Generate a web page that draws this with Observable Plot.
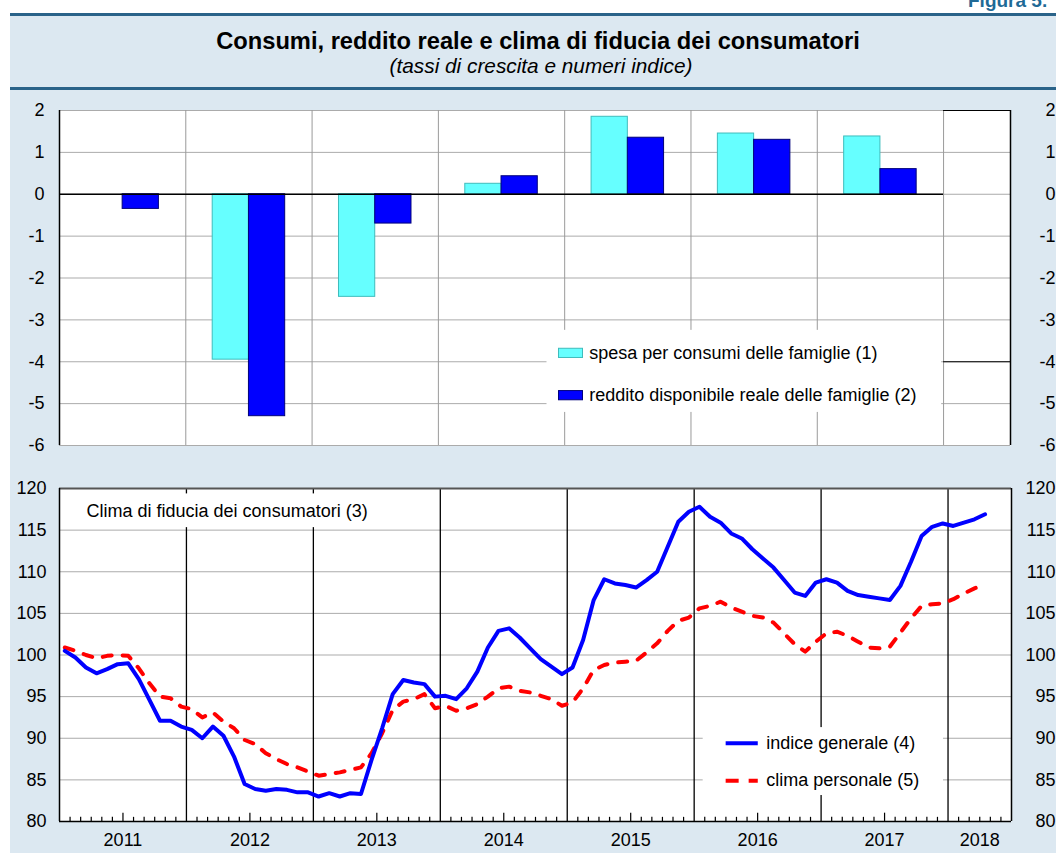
<!DOCTYPE html>
<html>
<head>
<meta charset="utf-8">
<script src="https://cdn.jsdelivr.net/npm/d3@7"></script>
<script src="https://cdn.jsdelivr.net/npm/@observablehq/plot@0.6"></script>
<style>
  body { margin: 0; background: #ffffff; font-family: "Liberation Sans", Arial, Helvetica, sans-serif; }
  #page { position: relative; width: 1056px; height: 853px; overflow: hidden; background: #ffffff; }
  #bg { position: absolute; left: 10px; top: 14px; width: 1046px; height: 839px; background: #dce8f1; }
  .band { position: absolute; left: 10px; width: 1046px; height: 3px; background: #2a6389; }
  #fig { position: absolute; left: 968px; top: -9px; font-size: 19px; font-weight: bold; color: #1f6a96; line-height: 1; white-space: nowrap; }
  #title { position: absolute; left: 0; width: 1076px; top: 30px; text-align: center; font-size: 23.7px; font-weight: bold; line-height: 1; color: #000; }
  #subtitle { position: absolute; left: 0; width: 1082px; top: 56px; text-align: center; font-size: 20.8px; font-style: italic; line-height: 1; color: #000; }
  #topchart { position: absolute; left: 0; top: 95px; }
  #bottomchart { position: absolute; left: 0; top: 470px; }
  svg { overflow: visible; }
</style>
</head>
<body>
<div id="page">
  <div id="bg"></div>
  <div class="band" style="top:13px"></div>
  <div class="band" style="top:87px"></div>
  <div id="fig">Figura 5.</div>
  <div id="title">Consumi, reddito reale e clima di fiducia dei consumatori</div>
  <div id="subtitle">(tassi di crescita e numeri indice)</div>
  <div id="topchart"></div>
  <div id="bottomchart"></div>
</div>
<script>
// ---------------- DATA ----------------
const years = [2011, 2012, 2013, 2014, 2015, 2016, 2017];
const spesaConsumi = [0.0, -3.95, -2.45, 0.25, 1.85, 1.45, 1.38];
const redditoDisponibile = [-0.35, -5.3, -0.7, 0.43, 1.35, 1.3, 0.6];

const topTicks = [-6, -5, -4, -3, -2, -1, 0, 1, 2];
const bottomTicks = [80, 85, 90, 95, 100, 105, 110, 115, 120];
const yearLabels = ["2011", "2012", "2013", "2014", "2015", "2016", "2017", "2018"];

// monthly series, January 2011 - April 2018
const indiceGenerale = [
  100.5, 99.7, 98.5, 97.8, 98.3, 98.9, 99.0, 97.1, 94.6, 92.1, 92.1, 91.4,
  91.0, 90.0, 91.4, 90.3, 87.8, 84.5, 83.9, 83.7, 83.9, 83.8, 83.5, 83.5,
  83.0, 83.4, 83.0, 83.4, 83.3, 87.4, 91.2, 95.3, 97.0, 96.7, 96.5, 95.0,
  95.1, 94.7, 96.0, 98.0, 100.9, 102.9, 103.2, 102.1, 100.8, 99.5, 98.6, 97.7,
  98.5, 101.8, 106.6, 109.1, 108.6, 108.4, 108.1, 109.0, 110.0, 113.0, 116.0, 117.2,
  117.8, 116.6, 115.9, 114.6, 114.0, 112.7, 111.6, 110.5, 109.0, 107.5, 107.1, 108.7,
  109.1, 108.7, 107.7, 107.2, 107.0, 106.8, 106.6, 108.3, 111.2, 114.3, 115.4, 115.8,
  115.5, 115.9, 116.3, 116.9
];
const climaPersonale = [
  100.9, 100.5, 100.0, 99.6, 99.9, 100.0, 99.9, 98.4, 96.6, 95.0, 94.8, 93.8,
  93.5, 92.5, 93.1, 92.0, 91.2, 89.8, 89.3, 88.2, 87.5, 86.9, 86.5, 86.0,
  85.5, 85.7, 85.9, 86.2, 86.5, 88.2, 90.6, 93.4, 94.4, 94.7, 95.3, 93.6,
  93.9, 93.3, 93.6, 94.1, 95.0, 96.0, 96.2, 95.7, 95.5, 95.1, 94.7, 93.9,
  94.3, 96.0, 98.2, 98.8, 99.1, 99.2, 99.3, 100.3, 101.4, 102.9, 104.1, 104.5,
  105.6, 105.9, 106.4, 105.7, 105.2, 104.7, 104.5, 103.9, 102.6, 101.3, 100.4, 101.6,
  102.6, 102.8, 102.3, 101.6, 100.9, 100.8, 101.0, 102.7, 104.4, 105.9, 106.1, 106.2,
  106.7, 107.4, 108.0, 108.5
];

const legendTop = ["spesa per consumi delle famiglie (1)", "reddito disponibile reale delle famiglie (2)"];
const legendBottom = ["indice generale (4)", "clima personale (5)"];
const panelTitle = "Clima di fiducia dei consumatori (3)";

// ---------------- STYLE ----------------
const FONT = '"Liberation Sans", Arial, Helvetica, sans-serif';
const CYAN = "#66ffff", CYAN_EDGE = "#3fbcbc";
const BLUE = "#0000ff", BLUE_EDGE = "#00007a";
const RED = "#ff0000";
const GRID = "#ababab";

// ---------------- TOP PANEL ----------------
const topDomain = [2011, 2018.53];
const barW = 0.287;
const bars = years.flatMap((y, i) => [
  {year: y, series: "spesa", v: spesaConsumi[i]},
  {year: y, series: "reddito", v: redditoDisponibile[i]}
]);
const lastYear = years[years.length - 1] + 1; // 2018

const topPlot = Plot.plot({
  width: 1056, height: 365,
  marginLeft: 59, marginRight: 46, marginTop: 15, marginBottom: 15,
  style: {background: "transparent", fontFamily: FONT, fontSize: "18px", color: "#000", overflow: "visible"},
  x: {type: "linear", domain: topDomain, axis: null, label: null},
  y: {domain: [-6, 2], axis: null, label: null},
  marks: [
    Plot.frame({fill: "white", stroke: null}),
    Plot.ruleY(topTicks, {stroke: GRID, strokeWidth: 1}),
    Plot.ruleX(d3.range(2012, lastYear + 1), {stroke: "#9a9a9a", strokeWidth: 1}),
    // legend background
    Plot.rect([0], {x1: () => 2014.86, x2: () => 2017.985, y1: () => -3.25, y2: () => -5.21, fill: "white"}),
    // bars
    Plot.rect(bars, {
      x1: d => d.series === "spesa" ? d.year + 0.5 - barW : d.year + 0.5,
      x2: d => d.series === "spesa" ? d.year + 0.5 : d.year + 0.5 + barW,
      y1: () => 0, y2: "v",
      fill: d => d.series === "spesa" ? CYAN : BLUE,
      stroke: d => d.series === "spesa" ? CYAN_EDGE : BLUE_EDGE,
      strokeWidth: 1
    }),
    // zero line and frame edges
    Plot.ruleY([0], {x1: () => 2011, x2: () => lastYear, stroke: "#000", strokeWidth: 1.5}),
    Plot.ruleY([2, -4], {x1: () => lastYear, x2: () => topDomain[1], stroke: "#000", strokeWidth: 1.2}),
    Plot.ruleX([topDomain[0], topDomain[1]], {stroke: "#000", strokeWidth: 1.5}),
    // legend
    Plot.rect(legendTop, {
      x1: () => 2014.955, x2: () => 2015.145,
      y1: (d, i) => (i === 0 ? -3.80 : -4.81) + 0.11,
      y2: (d, i) => (i === 0 ? -3.80 : -4.81) - 0.11,
      fill: (d, i) => i === 0 ? CYAN : BLUE,
      stroke: (d, i) => i === 0 ? CYAN_EDGE : BLUE_EDGE
    }),
    Plot.text(legendTop, {
      x: () => 2015.195, y: (d, i) => i === 0 ? -3.80 : -4.81,
      text: d => d, textAnchor: "start", fontSize: 18, fill: "#000"
    }),
    // axes
    Plot.axisY({anchor: "left", ticks: topTicks, tickSize: 0, tickPadding: 15, fontSize: 18, label: null, tickFormat: d => String(d)}),
    Plot.axisY({anchor: "right", ticks: topTicks, tickSize: 0, tickPadding: 0, textAnchor: "end", dx: 45, fontSize: 18, label: null, tickFormat: d => String(d)})
  ]
});
document.getElementById("topchart").appendChild(topPlot);

// ---------------- BOTTOM PANEL ----------------
const botDomain = [2011, 2018.5];
const months = indiceGenerale.map((v, i) => ({t: 2011 + (i + 0.5) / 12, ig: v, cp: climaPersonale[i]}));
const monthBounds = d3.range(1, Math.round((botDomain[1] - botDomain[0]) * 12))
  .filter(k => k % 12 !== 0)
  .map(k => ({t: 2011 + k / 12, mid: k % 12 === 6}));
const yearLabelPos = yearLabels.map(s => {
  const y = +s;
  const a = Math.max(y, botDomain[0]), b = Math.min(y + 1, botDomain[1]);
  return {label: s, t: (a + b) / 2};
});

const bottomPlot = Plot.plot({
  width: 1056, height: 383,
  marginLeft: 59, marginRight: 45, marginTop: 18, marginBottom: 32,
  style: {background: "transparent", fontFamily: FONT, fontSize: "18px", color: "#000", overflow: "visible"},
  x: {type: "linear", domain: botDomain, axis: null, label: null},
  y: {domain: [80, 120], axis: null, label: null},
  marks: [
    Plot.frame({fill: "white", stroke: null}),
    Plot.ruleY(bottomTicks, {stroke: GRID, strokeWidth: 1}),
    Plot.ruleX(d3.range(2012, 2019), {stroke: "#000", strokeWidth: 1.3}),
    // white boxes (panel title and legend)
    Plot.rect([0], {x1: () => 2011.05, x2: () => 2013.72, y1: () => 119.35, y2: () => 115.3, fill: "white"}),
    Plot.rect([0], {x1: () => 2016.071, x2: () => 2017.964, y1: () => 91.28, y2: () => 83.12, fill: "white"}),
    Plot.text([panelTitle], {x: () => 2011.213, y: () => 117.25, text: d => d, textAnchor: "start", fontSize: 18, fill: "#000"}),
    // month ticks
    Plot.ruleX(monthBounds, {x: "t", y1: () => 80, y2: d => d.mid ? 81.0 : 80.5, stroke: "#000", strokeWidth: 1.2}),
    // series
    Plot.line(months, {x: "t", y: "cp", stroke: RED, strokeWidth: 4, strokeDasharray: "9,11", strokeLinecap: "round"}),
    Plot.line(months, {x: "t", y: "ig", stroke: BLUE, strokeWidth: 4}),
    // legend
    Plot.ruleY([89.4], {x1: () => 2016.252, x2: () => 2016.505, stroke: BLUE, strokeWidth: 4}),
    Plot.ruleY([84.9], {x1: () => 2016.252, x2: () => 2016.505, stroke: RED, strokeWidth: 4, strokeDasharray: "13,10"}),
    Plot.text(legendBottom, {x: () => 2016.568, y: (d, i) => i === 0 ? 89.4 : 84.9, text: d => d, textAnchor: "start", fontSize: 18, fill: "#000"}),
    // frame edges
    Plot.ruleY([120], {stroke: "#555", strokeWidth: 2}),
    Plot.ruleY([80], {stroke: "#000", strokeWidth: 1.5}),
    Plot.ruleX([botDomain[0], botDomain[1]], {stroke: "#000", strokeWidth: 1.5}),
    // axes
    Plot.axisY({anchor: "left", ticks: bottomTicks, tickSize: 0, tickPadding: 13, fontSize: 18, label: null}),
    Plot.axisY({anchor: "right", ticks: bottomTicks, tickSize: 0, tickPadding: 0, textAnchor: "end", dx: 44, fontSize: 18, label: null}),
    Plot.text(yearLabelPos, {x: "t", y: () => 80, text: "label", dy: 19, fontSize: 18, fill: "#000", lineAnchor: "middle"})
  ]
});
document.getElementById("bottomchart").appendChild(bottomPlot);
</script>
</body>
</html>
